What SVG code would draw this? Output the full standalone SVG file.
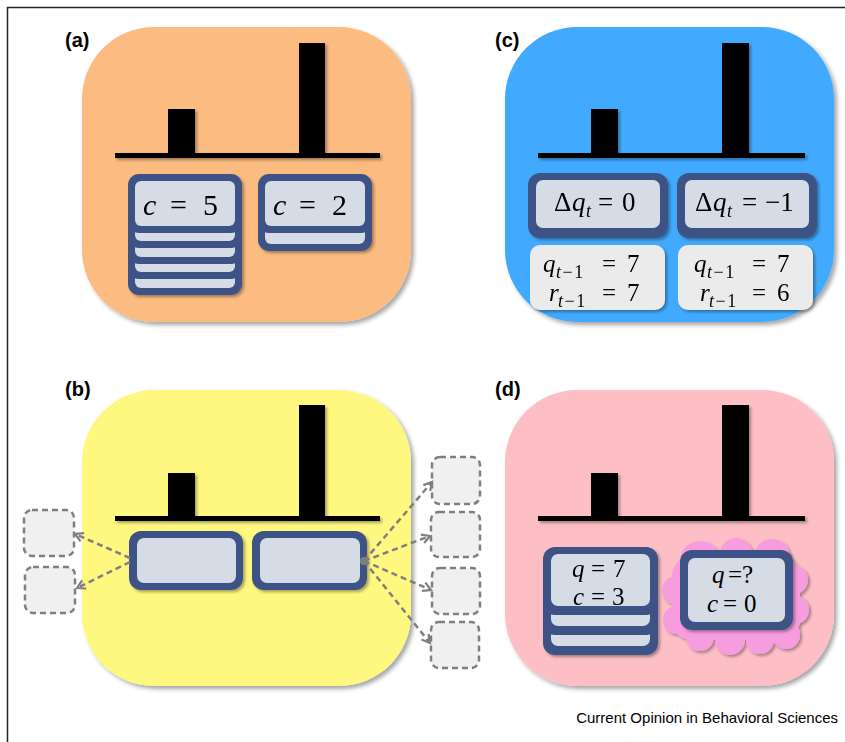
<svg xmlns="http://www.w3.org/2000/svg" width="845" height="742" viewBox="0 0 845 742">
<style>
.bg{fill:#ffffff}
.frame{stroke:#222;stroke-width:1.5;fill:none}
.lab{font-family:"Liberation Sans",Arial,sans-serif;font-weight:bold;font-size:20px;fill:#000}
.foot{font-family:"Liberation Sans",Arial,sans-serif;font-size:15px;fill:#000}
.bar{fill:#000}
.cb{fill:#3D5286}
.ci{fill:#D6DCE5}
.gb{fill:#EBEBEB}
.m{font-family:"Liberation Serif","Times New Roman",serif;fill:#000}
.i{font-style:italic}
.dbox{fill:#F0F0F0;stroke:#7F7F7F;stroke-width:2.5;stroke-dasharray:6 4}
.arr{fill:none;stroke:#7F7F7F;stroke-width:2.5;stroke-dasharray:6 4}
.cloud{fill:#F89CE0}
</style>
<defs>
<filter id="sh" x="-10%" y="-10%" width="125%" height="125%">
<feDropShadow dx="3" dy="3" stdDeviation="2" flood-color="#000" flood-opacity="0.35"/>
</filter>
<filter id="shs" x="-10%" y="-10%" width="130%" height="130%">
<feDropShadow dx="2" dy="2" stdDeviation="1.5" flood-color="#000" flood-opacity="0.35"/>
</filter>
<marker id="ah" markerUnits="userSpaceOnUse" markerWidth="12" markerHeight="12" refX="9" refY="5" orient="auto" viewBox="0 0 12 10">
<path d="M1,0.5 L9,5 L1,9.5" fill="none" stroke="#7F7F7F" stroke-width="2.2"/>
</marker>
</defs>
<rect class="bg" x="0" y="0" width="845" height="742"/>
<path class="frame" d="M7.5,742 L7.5,7.5 L845,7.5"/>

<!-- Panel a -->
<g id="panel-a">
<text class="lab" x="65" y="47">(a)</text>
<rect x="82" y="27" width="329" height="295" rx="72" fill="#FCBB81" filter="url(#sh)"/>
<g filter="url(#shs)">
<rect class="bar" x="115" y="153" width="265" height="5"/>
<rect class="bar" x="168" y="109" width="27" height="46"/>
<rect class="bar" x="299" y="43" width="26" height="112"/>
</g>
</g>
<g id="card-a1" filter="url(#shs)">
<rect class="cb" x="128" y="236" width="114" height="59" rx="11"/><rect class="ci" x="135" y="243" width="100" height="45" rx="6"/>
<rect class="cb" x="128" y="220" width="114" height="59" rx="11"/><rect class="ci" x="135" y="227" width="100" height="45" rx="6"/>
<rect class="cb" x="128" y="205" width="114" height="59" rx="11"/><rect class="ci" x="135" y="212" width="100" height="45" rx="6"/>
<rect class="cb" x="128" y="189" width="114" height="59" rx="11"/><rect class="ci" x="135" y="196" width="100" height="45" rx="6"/>
<rect class="cb" x="128" y="174" width="114" height="59" rx="11"/><rect class="ci" x="135" y="181" width="100" height="45" rx="6"/>
<text class="m" font-size="30"><tspan class="i" x="143" y="215">c</tspan><tspan x="170" y="215">=</tspan><tspan x="203" y="215">5</tspan></text>
</g>
<g id="card-a2" filter="url(#shs)">
<rect class="cb" x="258" y="192" width="114" height="59" rx="11"/><rect class="ci" x="265" y="199" width="100" height="45" rx="6"/>
<rect class="cb" x="258" y="174" width="114" height="59" rx="11"/><rect class="ci" x="265" y="181" width="100" height="45" rx="6"/>
<text class="m" font-size="30"><tspan class="i" x="273" y="215">c</tspan><tspan x="299" y="215">=</tspan><tspan x="332" y="215">2</tspan></text>
</g>

<!-- Panel c -->
<g id="panel-c">
<text class="lab" x="495" y="47">(c)</text>
<rect x="505" y="27" width="329" height="295" rx="72" fill="#42AAFE" filter="url(#sh)"/>
<g filter="url(#shs)">
<rect class="bar" x="538" y="153" width="267" height="5"/>
<rect class="bar" x="591" y="109" width="27" height="46"/>
<rect class="bar" x="722" y="43" width="27" height="112"/>
</g>
</g>
<g id="card-c1" filter="url(#shs)">
<rect class="cb" x="528" y="173" width="140" height="65" rx="12"/><rect class="ci" x="536" y="180" width="124" height="48" rx="7"/>
<text class="m" font-size="27"><tspan x="554" y="211">Δ</tspan><tspan class="i" x="572" y="211">q</tspan><tspan class="i" font-size="18" x="586" y="217">t</tspan><tspan x="598" y="211">=</tspan><tspan x="622" y="211">0</tspan></text>
</g>
<g id="card-c2" filter="url(#shs)">
<rect class="cb" x="677" y="173" width="140" height="65" rx="12"/><rect class="ci" x="685" y="180" width="124" height="48" rx="7"/>
<text class="m" font-size="27"><tspan x="695" y="211">Δ</tspan><tspan class="i" x="713" y="211">q</tspan><tspan class="i" font-size="18" x="727" y="217">t</tspan><tspan x="742" y="211">=</tspan><tspan x="765" y="211">−1</tspan></text>
</g>
<g id="box-c1" filter="url(#shs)">
<rect class="gb" x="530" y="245" width="135" height="65" rx="10"/>
<text class="m" font-size="25"><tspan class="i" x="543" y="272">q</tspan><tspan font-size="18" x="556" y="278" letter-spacing="1.5"><tspan class="i">t</tspan>−1</tspan><tspan x="602" y="272">=</tspan><tspan x="627" y="272">7</tspan></text>
<text class="m" font-size="25"><tspan class="i" x="549" y="301">r</tspan><tspan font-size="18" x="558" y="307" letter-spacing="1.5"><tspan class="i">t</tspan>−1</tspan><tspan x="602" y="301">=</tspan><tspan x="627" y="301">7</tspan></text>
</g>
<g id="box-c2" filter="url(#shs)">
<rect class="gb" x="678" y="245" width="135" height="65" rx="10"/>
<text class="m" font-size="25"><tspan class="i" x="694" y="272">q</tspan><tspan font-size="18" x="707" y="278" letter-spacing="1.5"><tspan class="i">t</tspan>−1</tspan><tspan x="752" y="272">=</tspan><tspan x="777" y="272">7</tspan></text>
<text class="m" font-size="25"><tspan class="i" x="700" y="301">r</tspan><tspan font-size="18" x="709" y="307" letter-spacing="1.5"><tspan class="i">t</tspan>−1</tspan><tspan x="752" y="301">=</tspan><tspan x="777" y="301">6</tspan></text>
</g>

<!-- Panel b -->
<g id="panel-b">
<text class="lab" x="65" y="396">(b)</text>
<rect x="82" y="390" width="329" height="296" rx="72" fill="#FFF880" filter="url(#sh)"/>
<g filter="url(#shs)">
<rect class="bar" x="115" y="516" width="265" height="5"/>
<rect class="bar" x="168" y="473" width="27" height="45"/>
<rect class="bar" x="299" y="405" width="26" height="113"/>
</g>
</g>
<g id="card-b1" filter="url(#shs)">
<rect class="cb" x="129" y="531" width="114" height="59" rx="12"/><rect class="ci" x="137" y="538" width="99" height="45" rx="7"/>
</g>
<g id="card-b2" filter="url(#shs)">
<rect class="cb" x="252" y="531" width="115" height="59" rx="12"/><rect class="ci" x="260" y="538" width="100" height="45" rx="7"/>
</g>
<g id="box-b-l1"><rect class="dbox" x="24" y="510" width="50" height="46" rx="8"/></g>
<g id="box-b-l2"><rect class="dbox" x="25" y="567" width="50" height="46" rx="8"/></g>
<g id="box-b-r1"><rect class="dbox" x="432" y="457" width="48" height="47" rx="8"/></g>
<g id="box-b-r2"><rect class="dbox" x="431" y="512" width="49" height="45" rx="8"/></g>
<g id="box-b-r3"><rect class="dbox" x="432" y="568" width="48" height="46" rx="8"/></g>
<g id="box-b-r4"><rect class="dbox" x="431" y="622" width="48" height="46" rx="8"/></g>

<!-- Panel d -->
<g id="panel-d">
<text class="lab" x="495" y="396">(d)</text>
<rect x="505" y="390" width="329" height="296" rx="72" fill="#FDBFC5" filter="url(#sh)"/>
<g filter="url(#shs)">
<rect class="bar" x="538" y="516" width="267" height="5"/>
<rect class="bar" x="591" y="473" width="27" height="45"/>
<rect class="bar" x="722" y="405" width="27" height="113"/>
</g>
</g>
<g id="card-d1" filter="url(#shs)">
<rect class="cb" x="543" y="587" width="115" height="68" rx="12"/><rect class="ci" x="551" y="594" width="99" height="52" rx="7"/>
<rect class="cb" x="543" y="567" width="115" height="68" rx="12"/><rect class="ci" x="551" y="574" width="99" height="52" rx="7"/>
<rect class="cb" x="543" y="547" width="115" height="68" rx="12"/><rect class="ci" x="551" y="554" width="99" height="52" rx="7"/>
<text class="m" font-size="25"><tspan class="i" x="572" y="577">q</tspan><tspan x="591" y="577">=</tspan><tspan x="613" y="577">7</tspan></text>
<text class="m" font-size="25"><tspan class="i" x="573" y="605">c</tspan><tspan x="591" y="605">=</tspan><tspan x="612" y="605">3</tspan></text>
</g>
<g id="card-d2">
<g class="cloud" filter="url(#shs)">
<rect x="672" y="556" width="128" height="84" rx="20"/>
<circle cx="700" cy="561" r="20"/>
<circle cx="736" cy="554" r="16"/>
<circle cx="772" cy="557" r="18"/>
<circle cx="794" cy="580" r="14"/>
<circle cx="795" cy="610" r="14"/>
<circle cx="786" cy="635" r="14"/>
<circle cx="760" cy="640" r="14"/>
<circle cx="730" cy="640" r="15"/>
<circle cx="700" cy="637" r="14"/>
<circle cx="677" cy="620" r="14"/>
<circle cx="676" cy="590" r="14"/>
</g>
<g filter="url(#shs)">
<rect class="cb" x="680" y="550" width="113" height="80" rx="12"/><rect class="ci" x="688" y="558" width="97" height="64" rx="7"/>
</g>
<text class="m" font-size="25"><tspan class="i" x="712" y="583">q</tspan><tspan x="728" y="583">=?</tspan></text>
<text class="m" font-size="25"><tspan class="i" x="707" y="612">c</tspan><tspan x="723" y="612">=</tspan><tspan x="744" y="612">0</tspan></text>
</g>

<!-- Connectors -->
<g id="connectors">
<path class="arr" d="M130,558 L75,534" marker-end="url(#ah)"/>
<path class="arr" d="M130,562 L77,588" marker-end="url(#ah)"/>
<circle cx="364" cy="561" r="4" fill="#7F7F7F"/>
<path class="arr" d="M364,561 L432,482" marker-end="url(#ah)"/>
<path class="arr" d="M364,561 L430,536" marker-end="url(#ah)"/>
<path class="arr" d="M364,561 L431,590" marker-end="url(#ah)"/>
<path class="arr" d="M364,561 L430,643" marker-end="url(#ah)"/>
</g>

<text class="foot" x="838" y="723" text-anchor="end">Current Opinion in Behavioral Sciences</text>
</svg>
